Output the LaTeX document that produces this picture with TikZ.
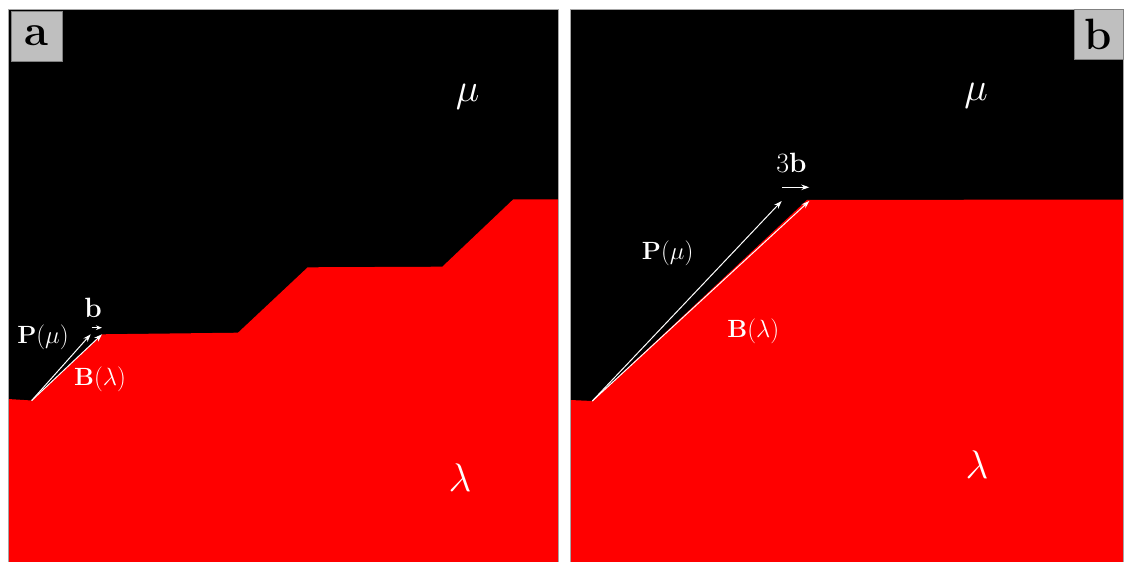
\RequirePackage{fix-cm}
\documentclass[tikz,border=0pt]{standalone}
\usetikzlibrary{arrows.meta}
\begin{document}
\begin{tikzpicture}[x=1bp,y=-1bp,
  vec/.style={white,line width=1bp,-{Stealth[length=8bp,width=5.5bp]}},
  lab/.style={text=white,inner sep=0pt,font=\fontsize{25}{30}\selectfont},
  veclab/.style={text=white,inner sep=0pt,font=\fontsize{28}{33}\selectfont},
  big/.style={text=white,inner sep=0pt,anchor=base,font=\fontsize{40}{48}\selectfont},
  tagbox/.style={fill=black!25,draw=black!50,line width=0.8bp,minimum width=50bp,minimum height=50bp,inner sep=0pt,font=\fontsize{44}{52}\selectfont\bfseries},
  frame/.style={draw=black!35,line width=0.8bp}]
\useasboundingbox (0,0) rectangle (1125,562);
% ---------- panel a ----------
\fill[black] (8,9) rectangle (558.5,562);
\fill[red] (8,399) -- (31.7,400.5) -- (102,334.3) -- (238,332.7) -- (307.7,267.3)
  -- (442.3,266.7) -- (513.3,199.3) -- (558.5,199.3) -- (558.5,562) -- (8,562) -- cycle;
\draw[frame] (8,9) rectangle (558.5,562);
\coordinate (oa) at (31.7,400.5);
\coordinate (pa) at (90.7,334.3);
\coordinate (ba) at (102,334.3);
\coordinate (bsa) at (91.7,327.7);
\coordinate (bea) at (102,327.7);
\draw[vec] (oa) -- (pa);
\draw[vec] (oa) -- (ba);
\draw[vec,-{Stealth[length=6bp,width=4.5bp]}] (bsa) -- (bea);
\node[veclab] (lba) at (93,308) {$\mathbf{b}$};
\node[lab] (lpa) at (43,337) {$\mathbf{P}(\mu)$};
\node[lab] (lBa) at (100,379) {$\mathbf{B}(\lambda)$};
\node[big] (mua) at (467.5,102) {$\mu$};
\node[big] (lama) at (460,491) {$\lambda$};
\node[tagbox] (taga) at (36.9,36) {a};
% ---------- panel b ----------
\fill[black] (570,9) rectangle (1123,562);
\fill[red] (570,400) -- (592.3,401) -- (807,200) -- (1123,199.5) -- (1123,562) -- (570,562) -- cycle;
\draw[frame] (570,9) rectangle (1123,562);
\coordinate (ob) at (592.3,401);
\coordinate (pb) at (781.7,201);
\coordinate (bb) at (809.3,201);
\coordinate (bsb) at (782,187.3);
\coordinate (beb) at (809.3,187.3);
\draw[vec] (ob) -- (pb);
\draw[vec] (ob) -- (bb);
\draw[vec] (bsb) -- (beb);
\node[veclab] (lbb) at (791.5,162.5) {$3\mathbf{b}$};
\node[lab] (lpb) at (667.7,253.3) {$\mathbf{P}(\mu)$};
\node[lab] (lBb) at (753.3,331) {$\mathbf{B}(\lambda)$};
\node[big] (mub) at (976,101) {$\mu$};
\node[big] (lamb) at (977,478) {$\lambda$};
\node[tagbox,minimum width=49bp] (tagb) at (1098.5,34.5) {b};
\end{tikzpicture}
\end{document}
